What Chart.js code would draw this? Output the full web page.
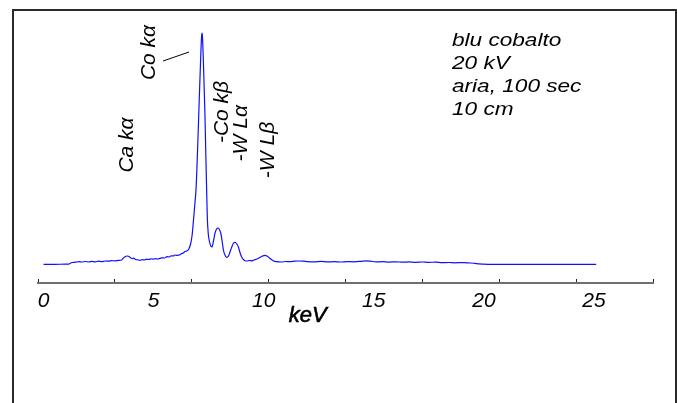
<!DOCTYPE html>
<html><head><meta charset="utf-8">
<script src="https://cdn.jsdelivr.net/npm/chart.js@4.4.1/dist/chart.umd.min.js"></script>
<style>
html,body{margin:0;padding:0;background:#fff;}
#wrap{position:relative;width:677px;height:403px;overflow:hidden;background:#fff;}
#frame{position:absolute;left:12px;top:9px;width:665px;height:430px;box-sizing:border-box;border:2px solid #2a2a2a;border-bottom:none;}
canvas{position:absolute;left:0;top:0;}
</style></head><body>
<div id="wrap"><div id="frame"></div><canvas id="c" width="677" height="403"></canvas></div>
<script>
// ---- data (energy in keV, counts in arbitrary units) ----
const energies = [
  0.00, 0.50, 1.00, 1.15, 1.22, 1.30, 1.45, 1.60, 1.75, 1.90, 2.05, 2.20, 2.35, 2.50, 2.65, 2.80, 2.95, 3.10, 3.25, 3.40,
  3.55, 3.62, 3.70, 3.78, 3.86, 3.94, 4.02, 4.10, 4.18, 4.28, 4.38, 4.48, 4.58, 4.68, 4.78, 4.88, 4.98, 5.08, 5.18, 5.29,
  5.40, 5.50, 5.60, 5.70, 5.80, 5.90, 5.97, 6.05, 6.12, 6.20, 6.28, 6.35, 6.42, 6.50, 6.60, 6.68, 6.75, 6.80, 6.87, 6.93,
  7.00, 7.06, 7.13, 7.18, 7.20, 7.22, 7.27, 7.33, 7.38, 7.41, 7.44, 7.48, 7.53, 7.60, 7.65, 7.72, 7.79, 7.86, 7.93, 8.00,
  8.05, 8.11, 8.17, 8.24, 8.32, 8.40, 8.47, 8.55, 8.63, 8.70, 8.78, 8.85, 8.93, 9.00, 9.08, 9.15, 9.25, 9.35, 9.45, 9.55,
  9.70, 9.85, 9.95, 10.05, 10.15, 10.25, 10.35, 10.45, 10.59, 10.80, 11.00, 11.20, 11.40, 11.60, 11.80, 12.00, 12.30, 12.60, 12.90, 13.20,
  13.50, 13.80, 14.10, 14.40, 14.65, 14.85, 15.10, 15.40, 15.70, 16.00, 16.30, 16.60, 16.90, 17.20, 17.50, 17.80, 18.10, 18.40, 18.70, 19.00,
  19.20, 19.40, 19.60, 19.80, 20.00, 20.30, 21.00, 22.00, 23.00, 24.00, 25.10
];
const counts = [
  18.7, 18.7, 18.8, 18.8, 19.8, 20.5, 20.8, 21.3, 21.0, 21.5, 21.0, 21.6, 21.2, 21.8, 21.4, 22.0, 21.8, 22.3, 22.2, 22.6,
  23.0, 24.8, 26.2, 27.0, 26.8, 25.5, 24.4, 24.8, 23.5, 23.2, 22.7, 23.3, 23.0, 23.8, 23.5, 24.2, 23.8, 24.3, 24.0, 24.6,
  25.2, 25.0, 26.3, 26.0, 27.2, 27.0, 28.0, 27.6, 27.8, 28.3, 29.5, 30.0, 31.5, 32.0, 34.0, 39.0, 48.0, 60.0, 78.0, 95.0,
  135.0, 175.0, 220.0, 247.0, 250.0, 246.0, 215.0, 170.0, 120.0, 92.0, 65.0, 50.0, 42.0, 37.0, 36.0, 42.0, 50.0, 54.0, 55.0, 53.0,
  50.0, 42.0, 33.0, 28.0, 25.7, 27.0, 31.0, 36.0, 40.0, 40.7, 39.0, 36.0, 30.0, 26.0, 23.5, 22.3, 22.0, 22.5, 22.2, 23.0,
  24.0, 25.8, 27.0, 27.7, 27.0, 25.3, 23.5, 22.0, 21.3, 21.0, 21.5, 21.3, 21.8, 22.0, 21.9, 21.4, 21.2, 21.6, 21.1, 21.3,
  21.0, 21.4, 21.2, 21.6, 22.2, 21.8, 21.1, 21.3, 20.9, 21.2, 20.8, 21.1, 20.7, 21.0, 20.6, 20.9, 20.4, 20.5, 20.2, 20.4,
  20.2, 20.0, 19.6, 19.2, 18.9, 18.7, 18.7, 18.7, 18.7, 18.7, 18.7
];
const xTickValues = [0, 5, 10, 15, 20, 25];
const axisTitle = 'keV';

// ---- annotations (text and data-space anchors) ----
const peakLabels = ['Ca k\u03b1', 'Co k\u03b1', '-Co k\u03b2', '-W L\u03b1', '-W L\u03b2'];
const peakLabelX = [3.81, 4.80, 8.13, 8.96, 10.20];
const peakLabelY = [138, 230.5, 171, 149.7, 133];
const leaderX = [5.43, 6.61];
const leaderY = [222, 231];
const infoLines = ['blu cobalto', '20 kV', 'aria, 100 sec', '10 cm'];
const infoAnchor = [18.55, 237.3];
const titleAnchor = [12.0, -38.7];

const X_MIN = -0.25, X_MAX = 27.68, Y_MAX = 263;

const annot = {
  id: 'annot',
  afterDatasetsDraw(chart) {
    const ctx = chart.ctx, xs = chart.scales.x, ys = chart.scales.y;
    ctx.save();
    ctx.fillStyle = '#000';
    ctx.font = 'italic 21px "Liberation Sans", Arial, sans-serif';
    ctx.textAlign = 'center';
    ctx.textBaseline = 'middle';
    peakLabels.forEach((t, i) => {
      ctx.save();
      ctx.translate(xs.getPixelForValue(peakLabelX[i]), ys.getPixelForValue(peakLabelY[i]));
      ctx.rotate(-Math.PI / 2);
      ctx.fillText(t, 0, 0);
      ctx.restore();
    });
    ctx.strokeStyle = '#000';
    ctx.lineWidth = 1;
    ctx.beginPath();
    ctx.moveTo(xs.getPixelForValue(leaderX[0]), ys.getPixelForValue(leaderY[0]));
    ctx.lineTo(xs.getPixelForValue(leaderX[1]), ys.getPixelForValue(leaderY[1]));
    ctx.stroke();

    ctx.font = 'italic 19px "Liberation Sans", Arial, sans-serif';
    ctx.textAlign = 'left';
    ctx.textBaseline = 'alphabetic';
    const ix = xs.getPixelForValue(infoAnchor[0]), iy = ys.getPixelForValue(infoAnchor[1]);
    infoLines.forEach((t, i) => {
      ctx.save();
      ctx.translate(ix, iy + i * 23.2);
      ctx.scale(1.19, 1);
      ctx.fillText(t, 0, 0);
      ctx.restore();
    });

    ctx.font = 'italic 22px "Liberation Sans", Arial, sans-serif';
    ctx.textAlign = 'center';
    ctx.lineWidth = 0.6;
    const tx = xs.getPixelForValue(titleAnchor[0]), ty = ys.getPixelForValue(titleAnchor[1]);
    ctx.fillText(axisTitle, tx, ty);
    ctx.strokeText(axisTitle, tx, ty);
    ctx.restore();
  }
};

new Chart(document.getElementById('c'), {
  type: 'line',
  data: {
    datasets: [{
      data: energies.map((e, i) => ({ x: e, y: counts[i] })),
      borderColor: '#1010ff',
      borderWidth: 1.2,
      pointRadius: 0,
      fill: false,
      cubicInterpolationMode: 'monotone',
      xAxisID: 'x',
      yAxisID: 'y'
    }]
  },
  options: {
    responsive: false,
    animation: false,
    devicePixelRatio: 1,
    layout: { padding: { left: 38, right: 24, top: 20, bottom: 0 } },
    plugins: { legend: { display: false }, tooltip: { enabled: false } },
    scales: {
      xt: {
        type: 'linear', position: 'bottom', weight: 0,
        min: X_MIN, max: X_MAX,
        border: { display: true, color: '#6e6e6e', width: 2 },
        grid: { display: true, drawOnChartArea: false, drawTicks: true, tickLength: -4, color: '#222', lineWidth: 1 },
        ticks: { display: false },
        afterBuildTicks: (s) => {
          const n = 8, t = [];
          for (let k = 0; k <= n; k++) t.push({ value: X_MIN + k * (X_MAX - X_MIN) / n });
          s.ticks = t;
        },
        afterFit: (s) => { s.height = 0; }
      },
      x: {
        type: 'linear', position: 'bottom', weight: 10,
        min: X_MIN, max: X_MAX,
        border: { display: false },
        grid: { display: false },
        ticks: {
          autoSkip: false, maxRotation: 0, padding: -2,
          color: '#000',
          font: { family: '"Liberation Sans", Arial, sans-serif', size: 21, style: 'italic' },
          callback: (v) => String(v)
        },
        afterBuildTicks: (s) => { s.ticks = xTickValues.map(v => ({ value: v })); },
        afterFit: (s) => { s.height = 120; }
      },
      y: { type: 'linear', display: false, min: 0, max: Y_MAX }
    }
  },
  plugins: [annot]
});
</script>
</body></html>
